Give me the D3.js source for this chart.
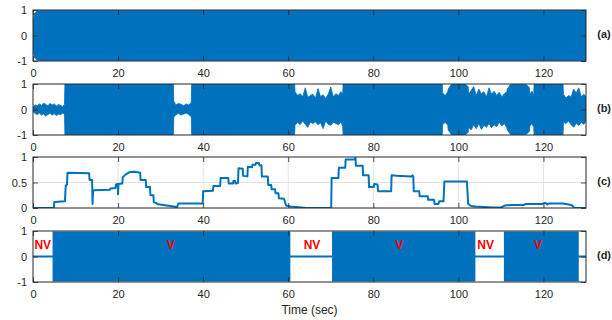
<!DOCTYPE html>
<html>
<head>
<meta charset="utf-8">
<script src="https://cdn.jsdelivr.net/npm/d3@7"></script>
<style>
  body { margin: 0; background: #fff; }
  svg { display: block; font-family: "Liberation Sans", Arial, Helvetica, sans-serif; }
</style>
</head>
<body>
<div id="chart"></div>
<script>
// ---- data ----
const xTicks = [0, 20, 40, 60, 80, 100, 120];
const waveTicks = [-1, 0, 1];
const energyTicks = [0, 0.5, 1];
const panelNames = ['(a)', '(b)', '(c)', '(d)'];

// (a) clean speech envelope
const aTime = [0, 0.3, 0.8, 1.5, 130];
const aHi = [0.55, 0.85, 0.95, 0.98, 0.98];
const aLo = [-0.55, -0.85, -0.95, -0.98, -0.98];

// (b) noisy signal envelope
const bTime = [0, 0.5, 1, 1.5, 2, 2.5, 3, 3.5, 4, 4.5, 5, 5.5, 6, 6.5, 7, 7.4,
  7.5, 33,
  33.1, 33.6, 34.2, 34.8, 35.4, 36, 36.6, 37.2,
  37.3, 61.5,
  61.6, 62.2, 62.8, 63.4, 64, 64.6, 65.2, 65.8, 66.4, 67, 67.6, 68.2, 68.8, 69.4, 70, 70.6, 71.2, 71.8, 72.4, 72.8,
  72.9, 96.2,
  96.3, 96.9, 97.5,
  97.6, 98.3, 99, 101.5, 102.3,
  102.4, 103, 103.6, 104.2, 104.8, 105.4, 106, 106.6, 107.2, 107.8, 108.4, 109, 109.6, 110.2, 110.8, 111.4,
  111.5, 112.2, 113, 116, 116.7,
  116.8, 117.3, 117.7,
  117.8, 124.6,
  124.7, 125.3, 125.9, 126.5, 127.1, 127.7, 128.3, 128.9, 129.5, 130];
const bHi = [0.10, 0.18, 0.14, 0.22, 0.16, 0.25, 0.2, 0.15, 0.24, 0.18, 0.22, 0.14, 0.2, 0.16, 0.12, 0.2,
  1, 1,
  0.32, 0.18, 0.24, 0.2, 0.15, 0.22, 0.18, 0.26,
  1, 1,
  0.7, 0.55, 0.62, 0.5, 0.85, 0.48, 0.55, 0.6, 0.45, 0.82, 0.5, 0.58, 0.42, 0.6, 0.88, 0.5, 0.62, 0.55, 0.7, 0.6,
  1, 1,
  0.65, 0.55, 0.7,
  0.8, 0.97, 1, 1, 0.9,
  0.6, 0.75, 0.9, 0.55, 0.8, 0.62, 0.7, 0.5, 0.85, 0.6, 0.72, 0.55, 0.68, 0.5, 0.62, 0.7,
  0.8, 0.97, 1, 0.97, 0.85,
  0.6, 0.72, 0.55,
  1, 1,
  0.6, 0.45, 0.55, 0.5, 0.8, 0.65, 0.85, 0.5, 0.6, 0.5];
const bLo = [-0.08, -0.16, -0.2, -0.14, -0.22, -0.18, -0.26, -0.2, -0.15, -0.22, -0.17, -0.24, -0.18, -0.2, -0.14, -0.18,
  -1, -1,
  -0.3, -0.2, -0.16, -0.22, -0.18, -0.14, -0.2, -0.28,
  -1, -1,
  -0.62, -0.5, -0.6, -0.45, -0.58, -0.7, -0.5, -0.55, -0.48, -0.6, -0.52, -0.75, -0.45, -0.58, -0.62, -0.5, -0.55, -0.6, -0.5, -0.65,
  -1, -1,
  -0.6, -0.5, -0.62,
  -0.8, -0.97, -1, -1, -0.9,
  -0.7, -0.8, -0.6, -0.75, -0.55, -0.78, -0.62, -0.7, -0.55, -0.72, -0.6, -0.68, -0.5, -0.65, -0.55, -0.72,
  -0.8, -0.97, -1, -0.97, -0.85,
  -0.65, -0.55, -0.7,
  -1, -1,
  -0.5, -0.55, -0.45, -0.6, -0.7, -0.55, -0.62, -0.5, -0.58, -0.45];

// (c) voicing measure
const cTime = [0, 4.9, 5.0, 7.5, 7.7, 8.0, 8.1, 13.2, 13.3, 13.9, 14.0, 14.1, 14.2, 18.1, 18.2, 19.4, 19.5, 19.9, 20.0, 20.1,
  21.0, 21.1, 21.8, 22.6, 24.0, 25.2, 25.3, 26.5, 26.6, 27.5, 27.6, 28.3, 28.4, 29.0, 29.1, 33.8, 33.9, 34.2, 39.9,
  40.0, 42.3, 42.4, 44.0, 44.1, 45.9, 46.0, 47.0, 47.1, 47.5, 47.6, 48.2, 48.3, 49.3, 49.4, 50.4, 50.5, 51.5, 51.6,
  52.3, 52.4, 53.1, 53.2, 53.7, 53.8, 55.2, 55.3, 56.0, 56.1, 56.9, 57.0, 57.7, 57.8, 59.0, 59.5, 60.5, 64.3, 70.1,
  70.2, 71.8, 71.9, 73.4, 73.5, 75.6, 75.8, 75.9, 77.5, 77.6, 78.9, 79.0, 80.1, 80.2, 81.0, 81.1, 84.2, 84.3, 85.5,
  89.0, 89.2, 89.4, 89.5, 90.8, 90.9, 92.8, 92.9, 94.3, 94.4, 95.3, 95.5, 96.5, 96.7, 102.0, 102.3, 103.0, 104.0,
  108.0, 110.0, 111.0, 112.6, 115.4, 115.7, 119.6, 120.5, 120.9, 121.2, 124.5, 126.0, 126.8, 127.2, 130];
const cVal = [0, 0, 0.12, 0.13, 0.44, 0.46, 0.69, 0.68, 0.55, 0.55, 0.08, 0.3, 0.35, 0.36, 0.38, 0.39, 0.46, 0.47, 0.27, 0.47,
  0.48, 0.6, 0.66, 0.7, 0.71, 0.69, 0.55, 0.55, 0.41, 0.41, 0.25, 0.25, 0.11, 0.1, 0.08, 0.02, 0.02, 0.09, 0.09,
  0.33, 0.34, 0.43, 0.43, 0.59, 0.59, 0.48, 0.48, 0.53, 0.53, 0.48, 0.49, 0.78, 0.77, 0.63, 0.62, 0.81, 0.8, 0.85,
  0.85, 0.88, 0.88, 0.84, 0.84, 0.62, 0.62, 0.45, 0.45, 0.37, 0.37, 0.29, 0.29, 0.19, 0.18, 0.05, 0.03, 0, 0,
  0.59, 0.59, 0.79, 0.79, 0.95, 0.95, 0.99, 0.83, 0.83, 0.64, 0.64, 0.41, 0.41, 0.47, 0.46, 0.33, 0.33, 0.64, 0.63,
  0.62, 0.64, 0.62, 0.33, 0.33, 0.23, 0.23, 0.16, 0.16, 0.08, 0.08, 0.13, 0.13, 0.52, 0.52, 0.08, 0.04, 0.03,
  0.01, 0.01, 0.05, 0.06, 0.06, 0.08, 0.08, 0.1, 0.07, 0.09, 0.09, 0.07, 0.05, 0, 0];

// (d) voiced segments (sec) and labels
const vStart = [4.6, 70.3, 110.7];
const vEnd = [60.5, 104.0, 128.3];
const segLabels = ['NV', 'V', 'NV', 'V', 'NV', 'V'];
const segLabelTime = [2.3, 32.4, 65.6, 86.1, 106.4, 118.7];
const segLabelLevel = 0.42;

// ---- layout ----
const width = 612, height = 320;
const margin = {left: 33, right: 26};
const panelTops = [10, 84, 157, 231];
const panelH = 51;
const blue = '#0072BD';
const axisColor = '#262626';

const svg = d3.select('#chart').append('svg')
  .attr('width', width)
  .attr('height', height);

const x = d3.scaleLinear().domain([0, 130]).range([margin.left, width - margin.right]);

function makePanel(i, yDomain, yTicks, grid) {
  const top = panelTops[i];
  const y = d3.scaleLinear().domain(yDomain).range([top + panelH, top]);
  const g = svg.append('g').attr('class', 'panel');

  g.append('clipPath').attr('id', 'clip' + i)
    .append('rect')
    .attr('x', x(0)).attr('y', top)
    .attr('width', x(130) - x(0)).attr('height', panelH);

  if (grid) {
    g.selectAll('.vgrid')
      .data(xTicks.slice(1))
      .enter().append('line')
      .attr('x1', d => x(d)).attr('x2', d => x(d))
      .attr('y1', top).attr('y2', top + panelH)
      .style('stroke', '#e3e3e3').style('stroke-width', 1);
    g.selectAll('.hgrid')
      .data(yTicks.slice(1, -1))
      .enter().append('line')
      .attr('x1', x(0)).attr('x2', x(130))
      .attr('y1', d => y(d)).attr('y2', d => y(d))
      .style('stroke', '#e3e3e3').style('stroke-width', 1);
  }

  const plot = g.append('g').attr('clip-path', 'url(#clip' + i + ')');
  return {g, plot, y, top};
}

function finishPanel(p, yTicks, fmt) {
  const {g, y, top} = p;
  const bottom = g.append('g')
    .attr('transform', 'translate(0,' + (top + panelH) + ')')
    .call(d3.axisBottom(x).tickValues(xTicks).tickSizeInner(-5).tickSizeOuter(0).tickPadding(8));
  g.append('g')
    .attr('transform', 'translate(0,' + top + ')')
    .call(d3.axisTop(x).tickValues(xTicks).tickSizeInner(-5).tickSizeOuter(0).tickFormat(''));
  g.append('g')
    .attr('transform', 'translate(' + x(0) + ',0)')
    .call(d3.axisLeft(y).tickValues(yTicks).tickSizeInner(-5).tickSizeOuter(0).tickPadding(6).tickFormat(fmt));
  g.append('g')
    .attr('transform', 'translate(' + x(130) + ',0)')
    .call(d3.axisRight(y).tickValues(yTicks).tickSizeInner(-5).tickSizeOuter(0).tickFormat(''));

  g.selectAll('.domain').remove();
  g.selectAll('.tick line').style('stroke', axisColor).style('stroke-width', 0.8);
  g.selectAll('.tick text')
    .style('fill', axisColor)
    .style('font-size', '11px')
    .style('font-family', '"Liberation Sans", Arial, Helvetica, sans-serif');

  g.append('rect')
    .attr('x', x(0)).attr('y', top)
    .attr('width', x(130) - x(0)).attr('height', panelH)
    .style('fill', 'none').style('stroke', axisColor).style('stroke-width', 1);
}

function envelope(times, hi, lo) {
  return times.map((t, k) => ({t, hi: hi[k], lo: lo[k]}));
}

const waveFmt = d => d3.format('d')(d).replace('−', '-');

// (a)
const pa = makePanel(0, [-1, 1], waveTicks, false);
pa.plot.append('path')
  .datum(envelope(aTime, aHi, aLo))
  .attr('d', d3.area().x(d => x(d.t)).y0(d => pa.y(d.lo)).y1(d => pa.y(d.hi)))
  .style('fill', blue).style('stroke', blue).style('stroke-width', 0.8);
finishPanel(pa, waveTicks, waveFmt);

// (b)
const pb = makePanel(1, [-1, 1], waveTicks, false);
pb.plot.append('path')
  .datum(envelope(bTime, bHi, bLo))
  .attr('d', d3.area().x(d => x(d.t)).y0(d => pb.y(d.lo)).y1(d => pb.y(d.hi)))
  .style('fill', blue).style('stroke', blue).style('stroke-width', 0.8);
finishPanel(pb, waveTicks, waveFmt);

// (c)
const pc = makePanel(2, [0, 1], energyTicks, true);
pc.plot.append('path')
  .datum(cTime.map((t, k) => ({t, v: cVal[k]})))
  .attr('d', d3.line().x(d => x(d.t)).y(d => pc.y(d.v)))
  .style('fill', 'none').style('stroke', blue).style('stroke-width', 2)
  .style('stroke-linejoin', 'round');
finishPanel(pc, energyTicks, d => d === 0.5 ? '0.5' : d3.format('d')(d));

// (d)
const pd = makePanel(3, [-1, 1], waveTicks, false);
pd.plot.append('line')
  .attr('x1', x(0)).attr('x2', x(130))
  .attr('y1', pd.y(0)).attr('y2', pd.y(0))
  .style('stroke', blue).style('stroke-width', 2);
pd.plot.selectAll('.voiced')
  .data(vStart.map((s, k) => ({s, e: vEnd[k]})))
  .enter().append('rect')
  .attr('x', d => x(d.s))
  .attr('width', d => x(d.e) - x(d.s))
  .attr('y', pd.y(0.98))
  .attr('height', pd.y(-0.98) - pd.y(0.98))
  .style('fill', blue);
pd.g.selectAll('.seglabel')
  .data(segLabels)
  .enter().append('text')
  .attr('x', (d, k) => x(segLabelTime[k]))
  .attr('y', pd.y(segLabelLevel))
  .attr('text-anchor', 'middle')
  .attr('dominant-baseline', 'middle')
  .style('fill', '#ff0000')
  .style('font-weight', 'bold')
  .style('font-size', '12px')
  .text(d => d);
finishPanel(pd, waveTicks, waveFmt);

// panel letters
svg.selectAll('.panel-name')
  .data(panelNames)
  .enter().append('text')
  .attr('x', 604)
  .attr('y', (d, k) => panelTops[k] + panelH / 2)
  .attr('text-anchor', 'middle')
  .attr('dominant-baseline', 'middle')
  .style('font-weight', 'bold')
  .style('font-size', '11px')
  .style('fill', axisColor)
  .text(d => d);

// x axis title
svg.append('text')
  .attr('x', (x(0) + x(130)) / 2)
  .attr('y', 311)
  .attr('text-anchor', 'middle')
  .attr('dominant-baseline', 'middle')
  .style('font-size', '12px')
  .style('fill', axisColor)
  .text('Time (sec)');
</script>
</body>
</html>
